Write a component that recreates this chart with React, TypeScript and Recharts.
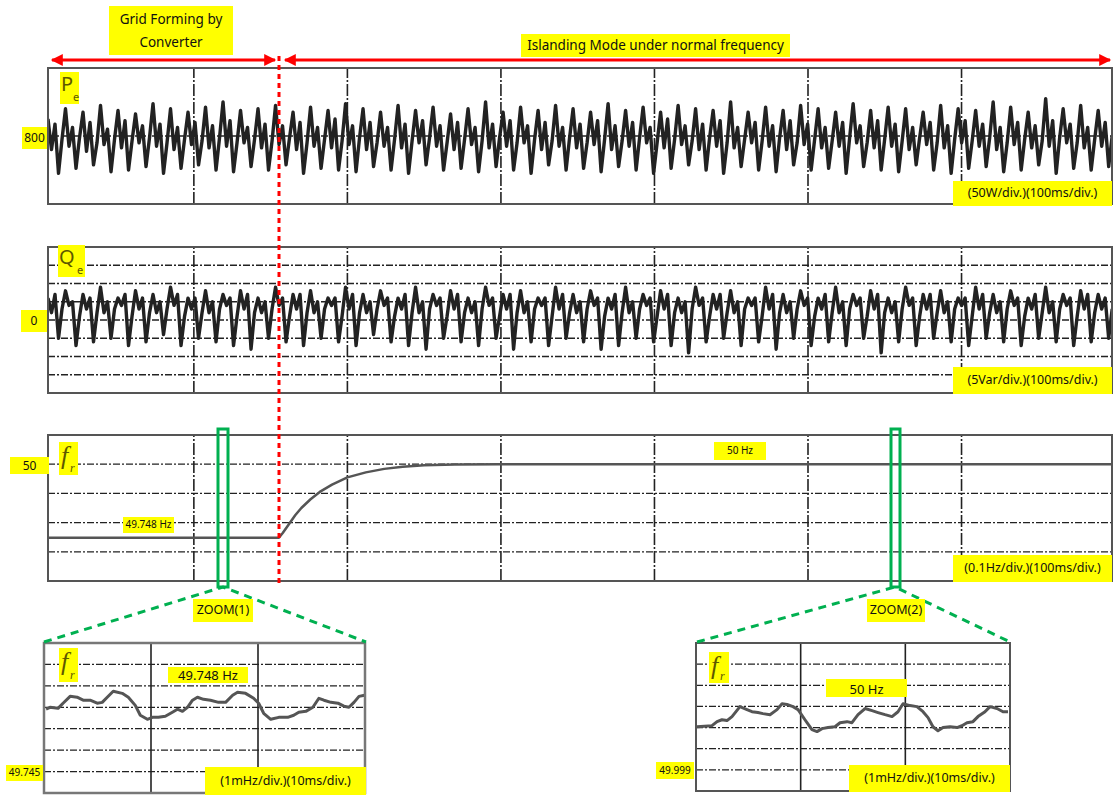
import React from 'react';
import { LineChart, Line, XAxis, YAxis, ReferenceLine } from 'recharts';

// ---- sampled oscilloscope records (main panels) ----
const SAMPLE_START_MS = 5;
const SAMPLE_STEP_MS = 2.28;

const PE_W = [
  850,760,835,690,790, 880,770,825,705,795, 870,755,840,715,780, 890,775,820,695,790, 875,765,845,700,785,
  865,780,830,710,795, 895,770,835,690,780, 880,760,825,705,790, 870,775,840,715,785, 885,765,830,700,795,
  900,770,845,695,780, 875,780,825,710,790, 880,765,835,700,785, 890,775,830,715,795, 870,760,840,690,780,
  885,770,825,705,790, 875,765,850,700,785, 895,775,830,695,795, 880,760,840,710,780, 870,770,825,700,790,
  890,765,835,690,785, 875,780,845,715,795, 885,770,830,700,780, 865,760,840,705,790, 880,775,825,695,785,
  900,765,835,710,795, 870,770,845,700,780, 885,780,830,690,790, 875,760,840,715,785, 890,770,825,700,795,
  880,765,835,705,780, 870,775,845,695,790, 895,760,830,710,785, 875,770,840,700,795, 885,780,825,690,780,
  870,765,850,705,790, 890,775,830,715,785, 880,760,835,700,795, 875,770,845,690,780, 900,765,825,710,790,
  870,780,840,700,785, 885,770,830,695,795, 875,760,845,715,780, 890,775,835,700,790, 880,765,825,705,785,
  870,770,840,690,795, 895,780,830,710,780, 875,765,845,700,790, 885,770,835,695,785, 880,760,825,715,795,
  870,775,840,700,780, 890,765,830,690,790, 880,780,845,705,785, 875,770,835,710,795, 900,760,825,695,780,
  885,775,840,700,790, 870,765,830,715,785, 910,770,845,690,795, 880,780,835,705,780, 890,765,825,700,790,
  875,770,840,710,800,
];

const QE_VAR = [
  6,2,7,-5,3, 8,4,5,-7,1, 7,3,6,-6,2, 9,2,5,-5,3, 6,4,7,-7,1,
  8,3,6,-6,2, 7,2,5,-4,3, 9,4,7,-7,1, 6,3,6,-5,2, 8,2,5,-6,3,
  7,4,6,-7,1, 8,3,7,-8,2, 6,2,5,-5,3, 9,4,6,-6,1, 7,3,7,-7,2,
  8,2,5,-5,3, 6,4,6,-6,1, 9,3,7,-7,2, 7,2,5,-4,3, 8,4,6,-6,1,
  6,3,7,-7,2, 9,2,5,-8,3, 7,4,6,-5,1, 8,3,7,-6,2, 6,2,5,-7,3,
  9,4,6,-5,1, 7,3,7,-8,2, 8,2,5,-6,3, 6,4,6,-7,1, 9,3,7,-5,2,
  7,2,5,-6,3, 8,4,6,-8,1, 6,3,7,-7,2, 9,2,5,-5,3, 7,4,6,-6,1,
  8,3,7,-7,2, 6,2,5,-9,3, 9,4,6,-6,1, 7,3,7,-5,2, 8,2,5,-7,3,
  6,4,6,-6,1, 9,3,7,-8,2, 7,2,5,-5,3, 8,4,6,-7,1, 6,3,7,-6,2,
  9,2,5,-7,3, 7,4,6,-5,1, 8,3,7,-9,2, 6,2,5,-6,3, 9,4,6,-7,1,
  7,3,7,-5,2, 8,2,5,-6,3, 6,4,6,-7,1, 9,3,7,-5,2, 7,2,5,-6,3,
  8,4,6,-7,1, 6,3,7,-5,2, 9,2,5,-6,3, 7,4,6,-7,1, 8,3,7,-6,2,
  7,3,6,-5,3,
];

// ---- frequency (main panel) ----
const FR_T_MS = [5, 155.4, 158, 162, 166, 170, 176, 182, 190, 200, 212, 224, 236, 250, 270, 300, 698];
const FR_HZ = [49.748, 49.748, 49.765, 49.795, 49.825, 49.85, 49.88, 49.905, 49.93, 49.955, 49.972, 49.984, 49.991, 49.996, 49.999, 50.0, 50.0];

// ---- ZOOM(1) ----
const ZOOM1_T_MS = [0.19,0.56,1.31,1.78,2.44,3.09,3.66,4.31,4.97,5.44,5.91,6.47,7.31,7.88,8.53,9.0,9.66,10.13,10.69,11.34,12.0,12.47,12.94,13.41,13.88,14.34,14.91,15.56,16.31,16.97,17.63,18.09,18.84,19.59,20.06,20.53,21.19,21.94,22.78,23.34,23.81,24.47,25.13,25.69,26.16,26.81,27.47,28.03,28.5,28.97,29.44,29.95];
const ZOOM1_HZ = [49.74791,49.748,49.74795,49.74819,49.74851,49.74847,49.74833,49.74833,49.74819,49.74823,49.74847,49.74875,49.74865,49.74847,49.74809,49.74763,49.74744,49.74753,49.74753,49.74758,49.74777,49.74791,49.74781,49.748,49.74833,49.74847,49.74837,49.74833,49.74823,49.74823,49.74856,49.7487,49.74865,49.74842,49.74819,49.74772,49.74744,49.74753,49.74753,49.74763,49.74777,49.74781,49.748,49.74842,49.74833,49.74823,49.74819,49.74805,49.748,49.74823,49.74851,49.74856];

// ---- ZOOM(2) ----
const ZOOM2_T_MS = [0.1,1.53,2.01,2.48,2.96,3.44,4.2,4.87,5.35,5.92,6.4,7.07,7.74,8.22,8.69,9.27,9.75,10.41,11.08,11.56,12.04,12.61,13.28,13.76,14.43,14.9,15.48,16.15,16.82,17.39,18.06,18.73,19.3,19.78,20.45,21.11,21.69,22.17,22.64,23.12,23.6,24.27,24.94,25.41,25.89,26.46,26.94,27.61,28.09,28.76,29.33,29.81];
const ZOOM2_HZ = [50.00104,50.00109,50.00128,50.00137,50.00133,50.00152,50.00199,50.00185,50.00175,50.00171,50.00166,50.00161,50.00185,50.00213,50.00209,50.00199,50.00185,50.00137,50.0009,50.00081,50.00095,50.001,50.00104,50.00123,50.00128,50.00123,50.00161,50.0019,50.0018,50.00171,50.00161,50.00152,50.00175,50.00213,50.00204,50.00199,50.00175,50.00147,50.00104,50.00085,50.001,50.00104,50.001,50.00109,50.00123,50.00128,50.00152,50.00175,50.00199,50.0019,50.00175,50.00175];

// ---- grid / tick values ----
const MAIN_GRID_T = [100, 200, 300, 400, 500, 600];
const PE_GRID = [800];
const QE_GRID = [-15, -10, -5, 0, 5, 10, 15];
const FR_GRID = [50.0, 49.9, 49.8, 49.7];
const ZOOM_GRID_T = [10, 20];
const ZOOM1_GRID = [49.745, 49.746, 49.747, 49.748, 49.749, 49.75];
const ZOOM2_GRID = [49.999, 50.0, 50.001, 50.002, 50.003, 50.004];

const peData = PE_W.map((v, i) => ({ t: SAMPLE_START_MS + i * SAMPLE_STEP_MS, v }));
const qeData = QE_VAR.map((v, i) => ({ t: SAMPLE_START_MS + i * SAMPLE_STEP_MS, v }));
const frData = FR_T_MS.map((t, i) => ({ t, v: FR_HZ[i] }));
const z1Data = ZOOM1_T_MS.map((t, i) => ({ t, v: ZOOM1_HZ[i] }));
const z2Data = ZOOM2_T_MS.map((t, i) => ({ t, v: ZOOM2_HZ[i] }));

const SANS = '"Noto Sans", "DejaVu Sans", sans-serif';

type PanelProps = {
  left: number; top: number; width: number; height: number;
  data: { t: number; v: number }[];
  xDomain: [number, number]; yDomain: [number, number];
  xGrid: number[]; yGrid: number[];
  stroke: string; strokeWidth: number; solidVertical?: boolean;
};

function Panel(p: PanelProps) {
  return (
    <div style={{ position: 'absolute', left: p.left, top: p.top }}>
      <LineChart width={p.width} height={p.height} data={p.data} margin={{ top: 0, right: 0, bottom: 0, left: 0 }}>
        <XAxis type="number" dataKey="t" domain={p.xDomain} hide allowDataOverflow />
        <YAxis type="number" domain={p.yDomain} hide allowDataOverflow />
        {p.yGrid.map((v) => (
          <ReferenceLine key={'h' + v} y={v} stroke="#222" strokeDasharray="7 2 2 2" strokeWidth={1.3} />
        ))}
        {p.xGrid.map((v) => (
          <ReferenceLine key={'v' + v} x={v} stroke="#222" strokeDasharray={p.solidVertical ? undefined : '12 2 2 2'} strokeWidth={1.6} />
        ))}
        <Line dataKey="v" type="linear" stroke={p.stroke} strokeWidth={p.strokeWidth} dot={false} isAnimationActive={false} strokeLinejoin="round" />
      </LineChart>
    </div>
  );
}

function Lbl({ x, y, w, h, fs, children, style }: any) {
  return (
    <div style={{
      position: 'absolute', left: x, top: y, width: w, height: h, background: '#ffff00',
      display: 'flex', alignItems: 'center', justifyContent: 'center', fontFamily: SANS,
      fontSize: fs, color: '#111', lineHeight: 1.15, textAlign: 'center', whiteSpace: 'nowrap', ...style,
    }}>{children}</div>
  );
}

function Sym({ x, y, w, h, main, sub, italic, subLeft }: any) {
  const fam = italic ? '"Liberation Serif", serif' : SANS;
  return (
    <div style={{ position: 'absolute', left: x, top: y, width: w, height: h, background: '#ffff00', color: '#5e5800' }}>
      <span style={{ position: 'absolute', left: italic ? 2 : 1, top: italic ? 1 : 2, fontSize: italic ? 26 : 20,
        fontFamily: fam, fontStyle: italic ? 'italic' : 'normal', lineHeight: 1 }}>{main}</span>
      <span style={{ position: 'absolute', left: subLeft, top: h - 13, fontSize: italic ? 12 : 11,
        fontFamily: fam, fontStyle: italic ? 'italic' : 'normal', lineHeight: 1 }}>{sub}</span>
    </div>
  );
}

export default function App() {
  const red = '#ff0000';
  const green = '#00b050';
  return (
    <div style={{ position: 'absolute', left: 0, top: 0, width: 1113, height: 796, background: '#fff', overflow: 'hidden' }}>
      <Panel left={48} top={68} width={1064} height={136} data={peData} xDomain={[5, 698]} yDomain={[600, 1000]}
        xGrid={MAIN_GRID_T} yGrid={PE_GRID} stroke="#222" strokeWidth={3.4} />
      <Panel left={48} top={247} width={1064} height={146} data={qeData} xDomain={[5, 698]} yDomain={[-20, 20]}
        xGrid={MAIN_GRID_T} yGrid={QE_GRID} stroke="#222" strokeWidth={3.4} />
      <Panel left={48} top={435} width={1064} height={146} data={frData} xDomain={[5, 698]} yDomain={[49.6, 50.1]}
        xGrid={MAIN_GRID_T} yGrid={FR_GRID} stroke="#555" strokeWidth={2.5} />
      <Panel left={44} top={643} width={321} height={150} data={z1Data} xDomain={[0, 30]} yDomain={[49.744, 49.751]}
        xGrid={ZOOM_GRID_T} yGrid={ZOOM1_GRID} stroke="#555" strokeWidth={3} solidVertical />
      <Panel left={696} top={643} width={314} height={148} data={z2Data} xDomain={[0, 30]} yDomain={[49.998, 50.005]}
        xGrid={ZOOM_GRID_T} yGrid={ZOOM2_GRID} stroke="#555" strokeWidth={3} solidVertical />

      <svg width={1113} height={796} style={{ position: 'absolute', left: 0, top: 0, pointerEvents: 'none' }}>
        <defs>
          <marker id="ah" viewBox="0 0 10 10" refX="9" refY="5" markerWidth="5" markerHeight="4" orient="auto-start-reverse" markerUnits="strokeWidth">
            <path d="M0,0 L10,5 L0,10 z" fill={red} />
          </marker>
        </defs>
        <rect x={48} y={68} width={1064} height={136} fill="none" stroke="#555" strokeWidth={2} />
        <rect x={48} y={247} width={1064} height={146} fill="none" stroke="#555" strokeWidth={2} />
        <rect x={48} y={435} width={1064} height={146} fill="none" stroke="#555" strokeWidth={2} />
        <rect x={44} y={643} width={321} height={150} fill="none" stroke="#777" strokeWidth={2.5} />
        <rect x={696} y={643} width={314} height={148} fill="none" stroke="#555" strokeWidth={2} />

        <line x1={52} y1={60} x2={275} y2={60} stroke={red} strokeWidth={3} markerStart="url(#ah)" markerEnd="url(#ah)" />
        <line x1={285} y1={60} x2={1110} y2={60} stroke={red} strokeWidth={3} markerStart="url(#ah)" markerEnd="url(#ah)" />
        <line x1={279} y1={56} x2={279} y2={586} stroke={red} strokeWidth={3} strokeDasharray="5 4" />

        <rect x={218} y={429} width={10} height={158} fill="none" stroke={green} strokeWidth={3} />
        <rect x={891} y={429} width={9} height={158} fill="none" stroke={green} strokeWidth={3} />
        <polyline points="44,642 223,587 366,642" fill="none" stroke={green} strokeWidth={3} strokeDasharray="8 6" />
        <polyline points="697,642 895,587 1010,642" fill="none" stroke={green} strokeWidth={3} strokeDasharray="8 6" />
      </svg>

      <Lbl x={109} y={6} w={124} h={49} fs={13.5} style={{ flexDirection: 'column', lineHeight: '23px' }}>
        <span>Grid Forming by</span>
        <span>Converter</span>
      </Lbl>
      <Lbl x={521} y={34} w={269} h={23} fs={13.5}>Islanding Mode under normal frequency</Lbl>

      <Sym x={60} y={72} w={19} h={32} main="P" sub="e" subLeft={13} />
      <Lbl x={22} y={127} w={25} h={22} fs={12}>800</Lbl>
      <Lbl x={953} y={181} w={159} h={25} fs={12.5}>(50W/div.)(100ms/div.)</Lbl>

      <Sym x={58} y={245} w={27} h={32} main="Q" sub="e" subLeft={19} />
      <Lbl x={21} y={310} w={26} h={22} fs={12}>0</Lbl>
      <Lbl x={953} y={367} w={159} h={27} fs={12.5}>(5Var/div.)(100ms/div.)</Lbl>

      <Sym x={59} y={442} w={19} h={33} main="f" sub="r" italic subLeft={11} />
      <Lbl x={10} y={457} w={39} h={17} fs={12}>50</Lbl>
      <Lbl x={123} y={517} w={51} h={16} fs={10}>49.748 Hz</Lbl>
      <Lbl x={714} y={442} w={52} h={18} fs={10}>50 Hz</Lbl>
      <Lbl x={953} y={555} w={159} h={27} fs={12.5}>(0.1Hz/div.)(100ms/div.)</Lbl>

      <Lbl x={193} y={599} w={60} h={23} fs={12.5}>ZOOM(1)</Lbl>
      <Lbl x={867} y={599} w={58} h={23} fs={12.5}>ZOOM(2)</Lbl>

      <Sym x={59} y={648} w={19} h={34} main="f" sub="r" italic subLeft={11} />
      <Lbl x={168} y={667} w={80} h={16} fs={13} style={{ alignItems: 'flex-end' }}>49.748 Hz</Lbl>
      <Lbl x={6} y={765} w={37} h={16} fs={10}>49.745</Lbl>
      <Lbl x={205} y={767} w={161} h={28} fs={12.5}>(1mHz/div.)(10ms/div.)</Lbl>

      <Sym x={709} y={652} w={20} h={31} main="f" sub="r" italic subLeft={11} />
      <Lbl x={826} y={679} w={81} h={18} fs={13} style={{ alignItems: 'flex-end' }}>50 Hz</Lbl>
      <Lbl x={656} y={762} w={38} h={17} fs={10}>49.999</Lbl>
      <Lbl x={849} y={765} w={161} h={27} fs={12.5}>(1mHz/div.)(10ms/div.)</Lbl>
    </div>
  );
}
